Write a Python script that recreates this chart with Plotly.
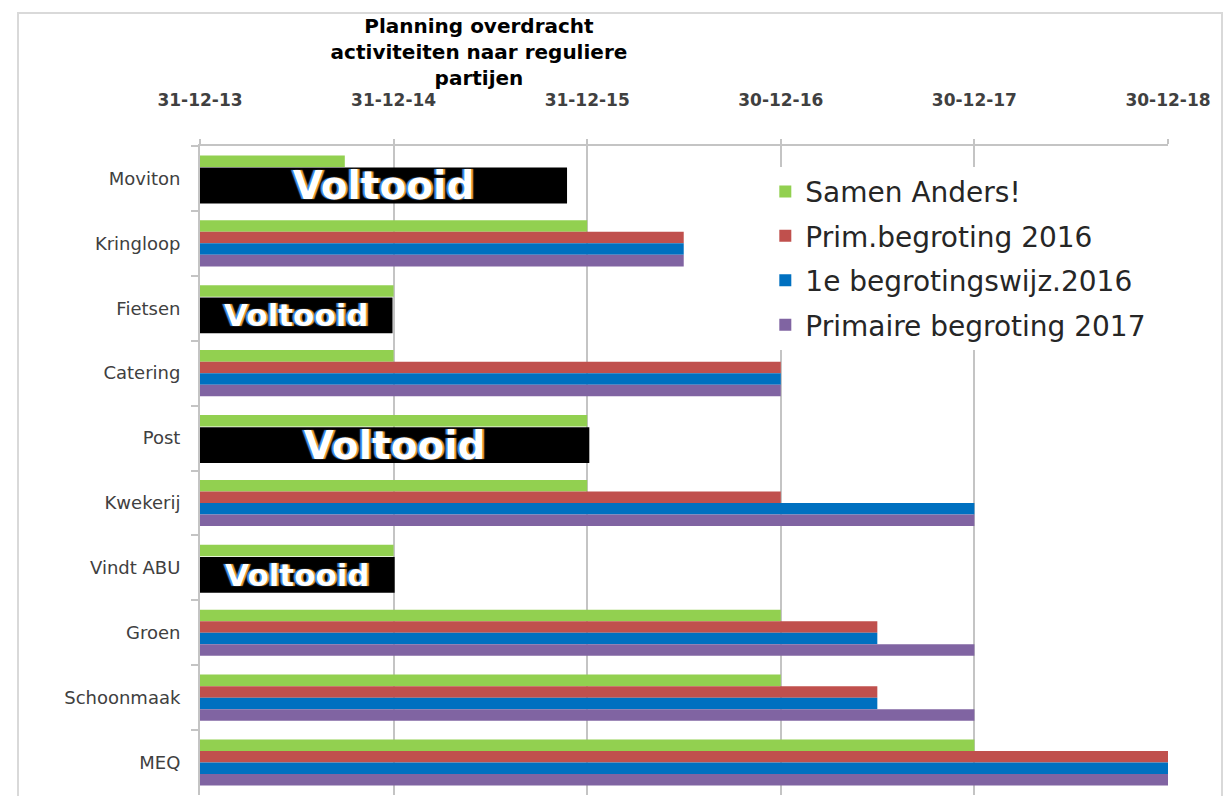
import plotly.graph_objects as go
import pandas as pd

start = "2013-12-31"
categories = ["Moviton", "Kringloop", "Fietsen", "Catering", "Post",
              "Kwekerij", "Vindt ABU", "Groen", "Schoonmaak", "MEQ"]
samen_anders = ["2014-09-30", "2015-12-31", "2014-12-31", "2014-12-31", "2015-12-31",
                "2015-12-31", "2014-12-31", "2016-12-30", "2016-12-30", "2017-12-30"]
prim_begroting_2016 = [None, "2016-06-30", None, "2016-12-30", None,
                       "2016-12-30", None, "2017-06-30", "2017-06-30", "2018-12-30"]
begrotingswijz_2016 = [None, "2016-06-30", None, "2016-12-30", None,
                       "2017-12-30", None, "2017-06-30", "2017-06-30", "2018-12-30"]
primaire_begroting_2017 = [None, "2016-06-30", None, "2016-12-30", None,
                           "2017-12-30", None, "2017-12-30", "2017-12-30", "2018-12-30"]
series_names = ["Samen Anders!", "Prim.begroting 2016",
                "1e begrotingswijz.2016", "Primaire begroting 2017"]
series_colors = ["#92D050", "#C0504D", "#0070C0", "#8064A2"]
voltooid_cats = ["Moviton", "Fietsen", "Post", "Vindt ABU"]
voltooid_end = ["2015-11-23", "2014-12-29", "2016-01-04", "2015-01-02"]
voltooid_text_size = [39, 31, 39, 31]
tick_dates = ["2013-12-31", "2014-12-31", "2015-12-31", "2016-12-30", "2017-12-30", "2018-12-30"]
x_end = "2018-12-30"


def durations(ends):
    out = []
    for e in ends:
        if e is None:
            out.append(None)
        else:
            out.append((pd.Timestamp(e) - pd.Timestamp(start)).total_seconds() * 1000)
    return out


fig = go.Figure()
all_series = [samen_anders, prim_begroting_2016, begrotingswijz_2016, primaire_begroting_2017]
for name, col, vals in zip(series_names, series_colors, all_series):
    fig.add_trace(go.Bar(
        y=categories, x=durations(vals), base=start, orientation="h",
        name=name, marker=dict(color=col, line=dict(width=0)),
        legendgroup=name,
    ))

bargap = 0.29
bar_w = (1 - bargap) / 4
fig.add_trace(go.Bar(
    y=voltooid_cats, x=durations(voltooid_end), base=start, orientation="h",
    yaxis="y2", showlegend=False, marker=dict(color="#000000", line=dict(width=0)),
    width=3 * bar_w + 0.02, offset=-(1 - bargap) / 2 + bar_w + 0.01,
    text=["Voltooid"] * len(voltooid_cats), textposition="inside",
    insidetextanchor="middle", constraintext="none",
    textfont=dict(family="DejaVu Sans", size=voltooid_text_size, color="#ffffff",
                  weight="bold", shadow="-2px 0px 1px #3a8cff, 2px 0px 1px #ff9a2e"),
))

n = len(categories)
fig.update_layout(
    width=1225, height=796,
    margin=dict(l=200, r=57, t=146, b=1),
    paper_bgcolor="#ffffff", plot_bgcolor="#ffffff",
    barmode="group", bargap=bargap, bargroupgap=0,
    title=dict(text="Planning overdracht<br>activiteiten naar reguliere<br>partijen",
               x=0.391, xref="container", xanchor="center",
               y=0.958, yref="container", yanchor="top",
               font=dict(family="DejaVu Sans", size=20, color="#000000", weight="bold")),
    xaxis=dict(type="date", side="top", range=[start, x_end],
               tickvals=tick_dates, tickformat="%d-%m-%y",
               tickfont=dict(family="DejaVu Sans", size=17, color="#404040", weight="bold"),
               showgrid=True, gridcolor="#c4c4c4", gridwidth=2,
               showline=True, linecolor="#c4c4c4", linewidth=2,
               ticks="outside", ticklen=5, tickcolor="#c4c4c4", tickwidth=2,
               ticklabelstandoff=26, zeroline=False),
    yaxis=dict(categoryorder="array", categoryarray=categories,
               range=[n - 0.5, -0.5],
               tickfont=dict(family="DejaVu Sans", size=18, color="#404040"),
               showline=True, linecolor="#c4c4c4", linewidth=2,
               ticks="outside", ticklen=7, tickcolor="#c4c4c4", tickwidth=2,
               tickson="boundaries", showgrid=False, ticklabelstandoff=14),
    yaxis2=dict(overlaying="y", categoryorder="array", categoryarray=categories,
                range=[n - 0.5, -0.5], visible=False),
    legend=dict(x=0.584, y=0.968, xanchor="left", yanchor="top",
                bgcolor="#ffffff", borderwidth=0, traceorder="grouped",
                tracegroupgap=5,
                font=dict(family="DejaVu Sans", size=28, color="#262626")),
    showlegend=True,
)

# outer chart frame (partially visible in reference)
fig.add_shape(type="rect", xref="paper", yref="paper",
              x0=(18 - 200) / 968, x1=(1222 - 200) / 968,
              y0=-0.1, y1=1 + (146 - 13) / 649,
              line=dict(color="#d9d9d9", width=2), layer="below")

fig.write_html("out.html", config={"displayModeBar": False},
               post_script="document.body.style.margin='0px';")
